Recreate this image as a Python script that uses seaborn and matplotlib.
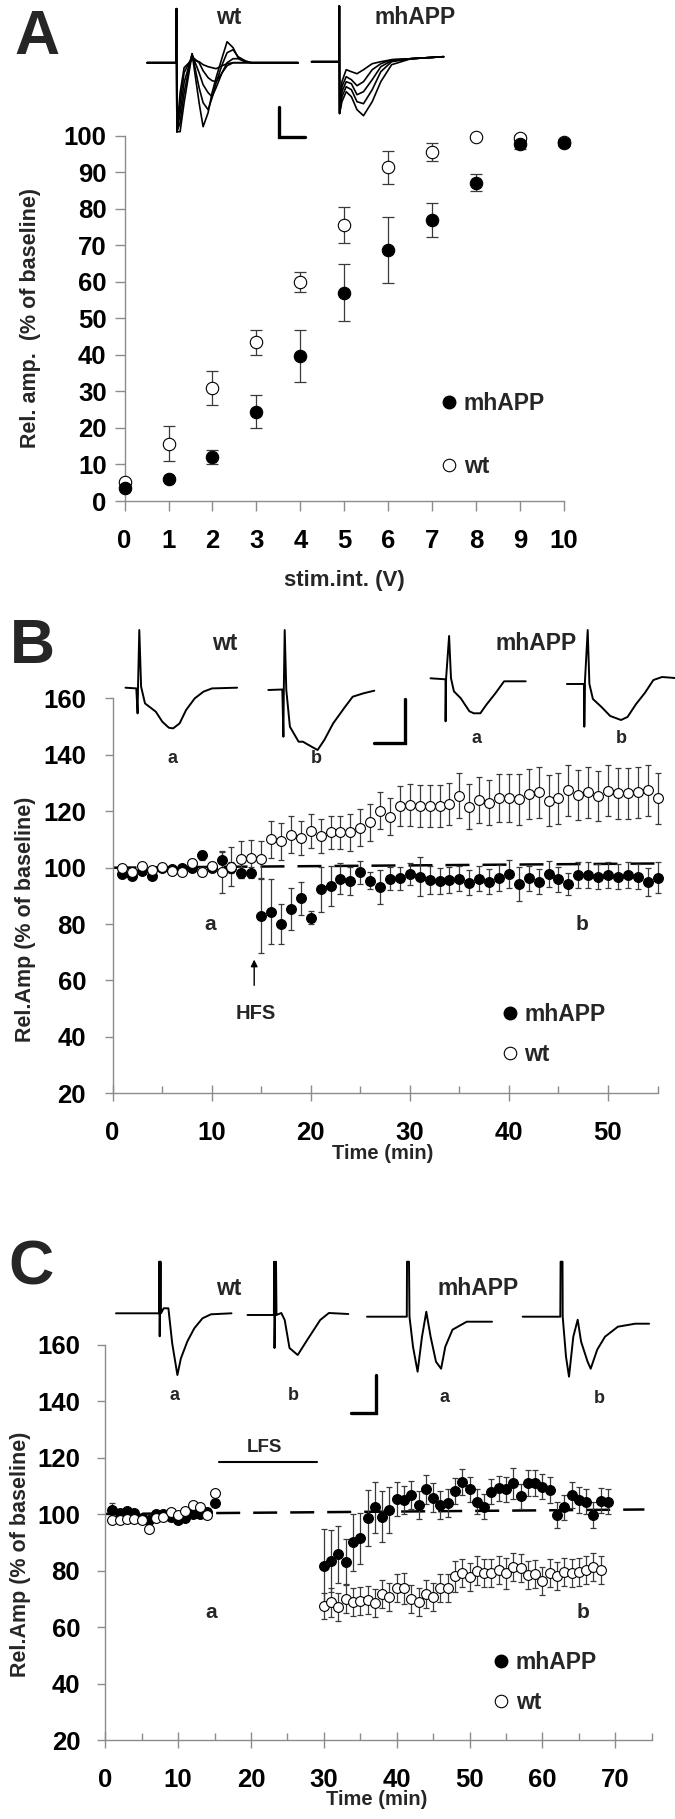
import numpy as np
import pandas as pd
import seaborn as sns
import matplotlib as mpl
import matplotlib.pyplot as plt
from matplotlib.lines import Line2D

sns.set_theme(style="ticks")
plt.rcParams["font.family"] = ["Liberation Sans", "DejaVu Sans"]
plt.rcParams["font.weight"] = "bold"
plt.rcParams["axes.labelweight"] = "bold"

# ---------------- data ----------------
# A: input-output
volts = list(range(11))
a_mh = [3.5, 6.1, 12.0, 24.5, 39.7, 57.0, 68.8, 77.0, 87.1, 97.6, 98.1]
a_mh_err = [0.5, 0.5, 2.0, 4.5, 7.0, 7.8, 9.0, 4.6, 2.3, 1.2, 1.0]
a_wt = [5.2, 15.7, 30.9, 43.4, 60.0, 75.6, 91.3, 95.6, 99.7, 99.3, 98.2]
a_wt_err = [0.5, 4.7, 4.7, 3.4, 2.7, 5.0, 4.5, 2.4, 0.5, 0.8, 0.5]

# B: HFS / LTP
b_time = list(range(1, 56))
b_mh = [97.8, 97.2, 99, 97.2, 100, 99.6, 100, 100, 104.4, 100,
        102.7, 100, 98.2, 98.2, 82.9, 84.4, 80, 85.3, 89.1, 82.3,
        92.4, 93.5, 96.1, 95.3, 98.3, 95.3, 93.3, 96.1, 96.2, 97.8,
        96.8, 95.6, 95.3, 95.6, 96.1, 94.7, 96.1, 95, 96.3, 97.8,
        94.2, 96.2, 95, 97.8, 95.9, 94.2, 97.4, 97.4, 96.8, 97.4,
        96.8, 97.4, 96.8, 95, 96.5]
b_mh_err = [1, 1, 1, 1, 1, 1, 1, 1, 1.5, 1,
            3, 2, 2, 2, 13, 11.6, 7, 7.5, 6, 2.4,
            8, 7, 5.5, 5, 4, 3, 6, 4, 4, 4,
            7, 5, 4.5, 4.5, 4.5, 4.5, 4.5, 4.5, 4.5, 5,
            6, 4.5, 4.5, 4.5, 4.5, 4, 4.5, 4.5, 4.5, 4.5,
            4.5, 4.5, 4.5, 5, 5.5]
b_wt = [100, 98.6, 100.6, 99.2, 100.4, 98.9, 98.3, 101.6, 98.6, 100.6,
        98.6, 100.4, 103, 103.3, 103, 110.1, 109.3, 111.7, 110.6, 113,
        111.3, 112.5, 112.5, 112.5, 114.2, 116.1, 120.2, 118.1, 121.9, 122.2,
        122, 121.9, 122, 122.5, 125.5, 121.6, 124, 123, 124.6, 124.6,
        124.3, 126.1, 126.7, 123.8, 124.6, 127.5, 125.8, 126.7, 125.4, 127.3,
        126.4, 126.4, 126.7, 127.5, 124.6]
b_wt_err = [1, 1, 1, 1, 1, 1, 1, 1.5, 1.5, 1.5,
            7.4, 7, 6.5, 6.5, 6.5, 6.5, 6.5, 6.5, 6, 6,
            6, 6, 6, 6.5, 6.5, 6.5, 6.5, 6.5, 7, 7.5,
            7.5, 7.5, 7.5, 7.5, 8, 8, 8, 8, 8.5, 8.5,
            9, 9, 9, 9, 9, 9, 9, 9, 9, 9,
            9, 9, 9, 9, 9]
b_base_x = [0, 55]
b_base_y = [100, 101.5]

# C: LFS / LTD
c_mh_time = list(range(1, 16)) + list(range(30, 70))
c_mh = [101.4, 100.2, 101, 100.5, 98.7, 97.9, 99.9, 99.9, 99, 97.9,
        98.5, 100, 100, 100.8, 103.8,
        81.7, 83.5, 85.7, 83.1, 90, 91.4, 98.5, 102.4, 99, 101.4,
        105.3, 105, 106.7, 103.2, 108.7, 105.8, 103.2, 103.8, 108.1, 111.4,
        108.7, 104.4, 102.6, 107.9, 109.1, 108.7, 110.9, 106.2, 110.9, 110.9,
        109.7, 108.5, 99.6, 102.4, 106.7, 105, 104.4, 99.6, 104.7, 104.4]
c_mh_err = [2.5, 1, 1, 1, 1, 1, 1, 1, 1, 1, 1, 1, 1, 1, 1,
            13, 11, 10, 8, 10, 9, 10, 9, 9, 8,
            6, 5, 5, 5, 5, 5, 5, 5, 4.5, 4.5,
            4.5, 4.5, 4.5, 4.5, 4.5, 4.5, 5.5, 4.5, 4.5, 4.5,
            4.5, 4.5, 4.5, 4.5, 4.5, 4.5, 4.5, 4.5, 4.5, 4.5]
c_wt_time = list(range(1, 16)) + list(range(30, 69))
c_wt = [97.9, 97.9, 98.1, 98.1, 97.9, 94.6, 98.5, 98.8, 100.8, 99.6,
        101.2, 103.2, 102.4, 99.6, 107.3,
        67.5, 68.7, 67.2, 69.8, 68.9, 69.3, 69.5, 68.6, 71.7, 70.5,
        73.7, 73.7, 69.8, 68.9, 71.7, 70.7, 73.7, 73.7, 78, 79.2,
        77.6, 80, 79.2, 79.2, 80.2, 79, 81.3, 80.8, 78.4, 78.8,
        76.4, 79, 78, 79.6, 79, 79.6, 80.2, 81.3, 80.2]
c_wt_err = [1] * 15 + [4.5, 5, 5, 5, 5, 5, 5, 5, 5, 5,
                       5, 5.5, 5, 5, 5, 5, 5, 5, 5.5, 5,
                       5, 5, 5, 5, 5, 5.5, 5, 5, 5, 5,
                       5, 5, 5, 5, 5, 5, 5, 5, 5]
c_base_x = [0, 74]
c_base_y = [100, 101.6]
lfs_span = [15.6, 29.0]
lfs_level = 118.5

# example fEPSP traces (px offsets: x right, y up from baseline)
trA_x = [0, 29, 29.4, 29.8, 33, 37, 45, 52, 56, 61, 65, 69, 75, 80, 86, 91, 98, 104, 151]
trA_wt = [
    [0, 0, 54, -69, -69, -40, 9, -40, -64, -50, -30, -15, 5, 21, 15, 5, 1, 0, 0],
    [0, 0, 54, -69, -60, -30, 9, -25, -40, -47, -35, -20, -2, 10, 13, 6, 2, 0, 0],
    [0, 0, 54, -69, -50, -20, 8, -10, -22, -30, -34, -25, -10, 0, 4, 4, 1, 0, 0],
    [0, 0, 54, -69, -40, -10, 6, 0, -8, -15, -18, -19, -10, -3, 0, 0, 0, 0, 0],
    [0, 0, 54, -69, -30, -5, 3, 1, -2, -4, -5, -6, -3, -1, 0, 0, 0, 0, 0],
]
trA_mx = [0, 27.5, 27.7, 28.0, 30.3, 34.6, 39.8, 45.4, 51.9, 60.6, 69.2, 80, 99.5, 132]
trA_mh = [
    [0, 0, 55.7, -51.7, -40, -30, -35, -48, -54, -40, -20, -3, 3, 5],
    [0, 0, 55.7, -51.7, -35, -25, -28, -40, -42, -28, -10, 0, 3, 5],
    [0, 0, 55.7, -51.7, -30, -20, -22, -33, -30, -18, -5, 1, 3, 5],
    [0, 0, 55.7, -51.7, -25, -15, -18, -24, -20, -8, -2, 2, 3, 5],
    [0, 0, 55.7, -51.7, -20, -8, -10, -12, -8, -2, 0, 2, 3, 5],
]
trB_wt_a = ([0, 10.8, 12.1, 12.5, 13.8, 15.6, 19.5, 23.8, 30.3, 36.8, 43.3, 47.6, 54.1, 60.6, 69.2, 77.9, 86.5, 111.6],
            [0, -0.7, -25.7, 0, 57.7, 1, -15.7, -19, -24, -34, -40, -40.7, -35.7, -22.3, -10.7, -4, -0.7, 0])
trB_wt_b = ([0, 14, 15.1, 15.5, 16.4, 18, 21.6, 30.3, 34.6, 43.3, 49.3, 56, 64.9, 75.7, 84.4, 95.2, 106],
            [0, 0.5, -46.7, 0, 60, 0, -36.7, -51.7, -51.7, -56.7, -60, -50, -33.3, -18.3, -6.7, -3.3, -0.7])
trB_mh_a = ([0, 15, 15.1, 15.6, 18.6, 20.5, 23.4, 30.3, 38.9, 43.3, 49.8, 56.2, 64.9, 73.6, 82.3, 95.2],
            [0, -1, -43, 0, 42.3, 0, -13, -20, -33, -35, -35, -26, -15, -3, -3, -3])
trB_mh_b = ([0, 17.3, 17.4, 17.9, 20.8, 22.5, 26, 34.6, 43.3, 54.1, 60.6, 69.2, 77.9, 86.5, 95.2, 108],
            [0, 0, -42.7, 0, 54, 0, -15, -23, -32, -36, -33, -20, -9, 4, 7, 6])
trC_wt_a = ([0, 43, 43.3, 43.7, 44.5, 45, 47.6, 52.4, 56.2, 61.4, 64.9, 71.4, 78.3, 86.5, 95, 115.5],
            [0, 0, 51.7, -23, 51.7, 0, 5, 5, -30, -61.7, -45, -28, -15, -5, -1, 0])
trC_wt_b = ([0, 26.4, 26.6, 27, 28.5, 29, 33.8, 37.2, 42, 50.2, 59.7, 72.7, 81.4, 100.8],
            [0, 0, 53.3, -33, 53.3, 0, 2, -5, -33, -40, -25, -5, 2, 1])
trC_mh_a = ([0, 39.8, 40, 42, 42.5, 46, 50.6, 55, 59.3, 63.6, 69, 74.1, 78.3, 85.5, 99.7, 125],
            [0, 0, 55, 55, 0, -30, -55, -20, 5, -20, -45, -52, -30, -13, -5, -5])
trC_mh_b = ([0, 37.6, 37.9, 39.8, 40, 43.3, 46.3, 50.6, 55, 58.4, 64.9, 68, 74.5, 82.3, 95.2, 112.5, 126.4],
            [0, 0, 55, 55, 0, -40, -60, -20, -3, -25, -45, -52, -33, -20, -10, -7, -7])

# ---------------- figure ----------------
W, H = 675, 1819
fig = plt.figure(figsize=(W / 100, H / 100), dpi=100)


def px_axes(left, top, right, bottom):
    return fig.add_axes([left / W, 1 - bottom / H, (right - left) / W, (bottom - top) / H])


GRAY = "#8c8c8c"
ERR = "#3a3a3a"
TICK_FS = 18.5


def style_axes(ax):
    sns.despine(ax=ax)
    for s in ["left", "bottom"]:
        ax.spines[s].set_color(GRAY)
        ax.spines[s].set_linewidth(1.0)
    ax.tick_params(colors=GRAY, labelcolor="black", labelsize=TICK_FS, width=1.0)
    for lab in ax.get_xticklabels() + ax.get_yticklabels():
        lab.set_fontweight("bold")


def series(ax, x, y, err, filled, s, cap):
    ax.errorbar(x, y, yerr=err, fmt="none", ecolor=ERR, elinewidth=0.9,
                capsize=cap, capthick=0.9, zorder=2, clip_on=False)
    sns.scatterplot(x=x, y=y, ax=ax, s=s, color="black" if filled else "white",
                    edgecolor="black", linewidth=0.8, zorder=3, clip_on=False, legend=False)


def legend(ax, x_px, y_px, spacing):
    hs = [Line2D([], [], marker="o", ls="none", mfc="black", mec="black", ms=9),
          Line2D([], [], marker="o", ls="none", mfc="white", mec="black", mew=0.8, ms=9)]
    ax.legend(hs, ["mhAPP", "wt"], loc="center left", frameon=False,
              bbox_to_anchor=(x_px / W, 1 - y_px / H), bbox_transform=fig.transFigure,
              prop={"size": 16.5, "weight": "bold"}, handlelength=0.6, handletextpad=0.35,
              labelspacing=spacing, borderpad=0, borderaxespad=0)


# ---- Panel A ----
axA = px_axes(124.6, 135.7, 563.8, 501)
series(axA, volts, a_wt, a_wt_err, False, 80, 4)
series(axA, volts, a_mh, a_mh_err, True, 80, 4)
axA.set_xlim(0, 10)
axA.set_ylim(0, 100)
axA.set_xticks(range(0, 11))
axA.set_yticks(range(0, 101, 10))
style_axes(axA)
axA.tick_params(axis="x", direction="out", length=7, pad=13)
axA.tick_params(axis="y", direction="out", length=7, pad=6)
axA.set_xlabel("stim.int. (V)", fontsize=16, fontweight="bold")
axA.set_ylabel("Rel. amp.  (% of baseline)", fontsize=15.5, fontweight="bold")
axA.xaxis.set_label_coords(0.5, -0.189)
axA.yaxis.set_label_coords(-0.19, 0.5)
legend(axA, 442, 435, 1.75)

# ---- Panel B ----
axB = px_axes(112.5, 698.5, 657.5, 1093.3)
axB.plot(b_base_x, b_base_y, color="black", lw=1.8, ls=(0, (9.6, 5.2)), zorder=1)
series(axB, b_time, b_mh, b_mh_err, True, 50, 2.5)
series(axB, b_time, b_wt, b_wt_err, False, 50, 2.5)
axB.set_xlim(0, 55)
axB.set_ylim(20, 160)
axB.set_xticks(range(0, 51, 10))
axB.set_xticks(range(5, 56, 10), minor=True)
axB.set_yticks(range(20, 161, 20))
style_axes(axB)
axB.tick_params(axis="x", which="major", direction="inout", length=12, pad=14)
axB.tick_params(axis="x", which="minor", direction="in", length=5, color=GRAY, width=1.0)
axB.tick_params(axis="y", direction="out", length=6, pad=13)
axB.set_xlabel("Time (min)", fontsize=14.5, fontweight="bold")
axB.set_ylabel("Rel.Amp (% of baseline)", fontsize=15.5, fontweight="bold")
axB.xaxis.set_label_coords(0.496, -0.128)
axB.yaxis.set_label_coords(-0.14, 0.44)
axB.annotate("", xy=(14.3, 68.4), xytext=(14.3, 57.3),
             arrowprops=dict(arrowstyle="-|>", color="black", lw=1.0, mutation_scale=10))
axB.text(14.5, 48.4, "HFS", ha="center", va="center", fontsize=14.5, fontweight="bold")
axB.text(9.9, 80, "a", ha="center", va="center", fontsize=15, fontweight="bold")
axB.text(47.4, 80, "b", ha="center", va="center", fontsize=15, fontweight="bold")
legend(axB, 502.7, 1034.5, 0.75)

# ---- Panel C ----
axC = px_axes(105.2, 1344.5, 651.7, 1740)
axC.plot(c_base_x, c_base_y, color="black", lw=1.8, ls=(0, (9.6, 5.2)), zorder=1)
axC.plot(lfs_span, [lfs_level, lfs_level], color="black", lw=1.5)
series(axC, c_mh_time, c_mh, c_mh_err, True, 50, 2.5)
series(axC, c_wt_time, c_wt, c_wt_err, False, 50, 2.5)
axC.set_xlim(0, 75)
axC.set_ylim(20, 160)
axC.set_xticks(range(0, 71, 10))
axC.set_xticks(range(5, 76, 10), minor=True)
axC.set_yticks(range(20, 161, 20))
style_axes(axC)
axC.tick_params(axis="x", which="major", direction="inout", length=12, pad=14)
axC.tick_params(axis="x", which="minor", direction="in", length=5, color=GRAY, width=1.0)
axC.tick_params(axis="y", direction="out", length=6, pad=12)
axC.set_xlabel("Time (min)", fontsize=14.5, fontweight="bold")
axC.set_ylabel("Rel.Amp (% of baseline)", fontsize=15.5, fontweight="bold")
axC.xaxis.set_label_coords(0.496, -0.126)
axC.yaxis.set_label_coords(-0.135, 0.47)
axC.text(sum(lfs_span) / 2 - 0.5, 123.5, "LFS", ha="center", va="center", fontsize=13.5, fontweight="bold")
axC.text(14.5, 65.3, "a", ha="center", va="center", fontsize=15, fontweight="bold")
axC.text(65.6, 65.3, "b", ha="center", va="center", fontsize=15, fontweight="bold")
legend(axC, 494, 1682.7, 0.75)

# ---- overlay for traces, letters ----
ov = fig.add_axes([0, 0, 1, 1], zorder=10)
ov.set_xlim(0, W)
ov.set_ylim(H, 0)
ov.axis("off")
ov.patch.set_alpha(0)


def trace(x0, y0, xs, ys, lw=1.4):
    ov.plot(np.asarray(xs) + x0, y0 - np.asarray(ys), color="black", lw=lw,
            solid_joinstyle="round")


for ys in trA_wt:
    trace(147.1, 62.7, trA_x, ys, lw=1.2)
for ys in trA_mh:
    trace(311.6, 61.7, trA_mx, ys, lw=1.2)
trace(125.5, 687.7, *trB_wt_a)
trace(268.3, 690.0, *trB_wt_b)
trace(430.5, 678.3, *trB_mh_a)
trace(566.9, 684.0, *trB_mh_b)
trace(116.0, 1313.3, *trC_wt_a)
trace(247.5, 1315.0, *trC_wt_b)
trace(367.0, 1316.7, *trC_mh_a)
trace(522.7, 1316.7, *trC_mh_b)

# scale bars
for (xv, y1, y2, xh1) in [(279, 106.7, 136.7, 305), (404.6, 699.3, 742.7, 374.3),
                           (375.6, 1375, 1413.3, 350.5)]:
    ov.plot([xv, xv, xh1], [y1, y2, y2], color="black", lw=2.4, solid_joinstyle="miter")

letters = [("A", 36.8, 37.3), ("B", 32.5, 646.7), ("C", 31, 1268)]
for s, x, y in letters:
    ov.text(x, y, s, ha="center", va="center", fontsize=45, fontweight="bold")

labels = [("wt", 229, 17), ("mhAPP", 415.4, 17),
          ("wt", 225, 643), ("mhAPP", 536.6, 643),
          ("wt", 229, 1288), ("mhAPP", 478, 1288)]
for s, x, y in labels:
    ov.text(x, y, s, ha="center", va="center", fontsize=16.5, fontweight="bold")

sub = [("a", 173, 758), ("b", 316, 758), ("a", 476, 738), ("b", 621, 738),
       ("a", 175, 1395), ("b", 293.4, 1395), ("a", 444.8, 1397), ("b", 599.3, 1398)]
for s, x, y in sub:
    ov.text(x, y, s, ha="center", va="center", fontsize=13, fontweight="bold")

fig.savefig("out.png", dpi=100)
